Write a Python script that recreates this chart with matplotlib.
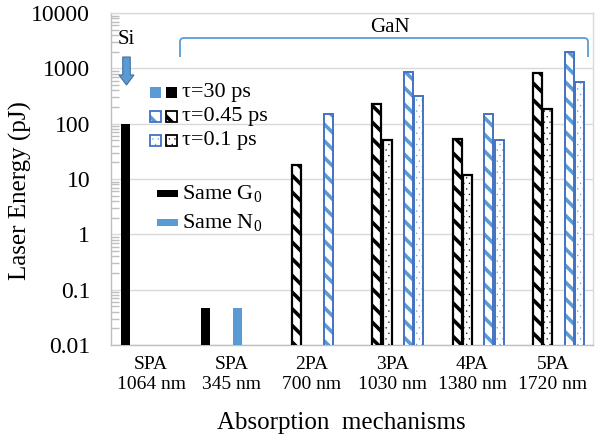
import numpy as np
import matplotlib
matplotlib.use("Agg")
import matplotlib.pyplot as plt
from matplotlib.patches import Rectangle, FancyArrow, PathPatch
from matplotlib.path import Path
from matplotlib.ticker import LogLocator, FixedLocator, FixedFormatter, NullFormatter

nan = np.nan
categories = ["SPA\n1064 nm", "SPA\n345 nm", "2PA\n700 nm", "3PA\n1030 nm", "4PA\n1380 nm", "5PA\n1720 nm"]
g0_30ps = [100, 0.047, nan, nan, nan, nan]
g0_045ps = [nan, nan, 18, 224, 53, 810]
g0_01ps = [nan, nan, nan, 50, 12, 182]
n0_30ps = [nan, 0.047, nan, nan, nan, nan]
n0_045ps = [nan, nan, 150, 850, 150, 1950]
n0_01ps = [nan, nan, nan, 312, 50, 566]
ytick_vals = [0.01, 0.1, 1, 10, 100, 1000, 10000]
ytick_labels = ["0.01", "0.1", "1", "10", "100", "1000", "10000"]

BLUE = "#5b9bd5"
BLUE_EDGE = "#4472c4"
GRID = "#d9d9d9"
STRIPE_LW = 2.6
DOT_LW = 0.2
DOTS = '...'

plt.rcParams['font.family'] = ['Liberation Serif', 'DejaVu Serif']
plt.rcParams['mathtext.fontset'] = 'custom'
plt.rcParams['mathtext.rm'] = 'Liberation Serif'
plt.rcParams['mathtext.it'] = 'Liberation Serif'

W, H = 596, 440
fig = plt.figure(figsize=(W / 100, H / 100), dpi=100)
L, R, T, B = 111, 593, 13, 345
ax = fig.add_axes([L / W, 1 - B / H, (R - L) / W, (B - T) / H])

x = np.arange(len(categories))
bw = 0.112
step = 0.131
offs = [(i - 2.5) * step + 0.005 for i in range(6)]


def set_hlw(bars, lw):
    for b in bars:
        if hasattr(b, "set_hatch_linewidth"):
            b.set_hatch_linewidth(lw)


ax.set_yscale('log')
# solid bars
ax.bar(x + offs[0], g0_30ps, bw, color='black', edgecolor='black', linewidth=0, zorder=3)
ax.bar(x + offs[3], n0_30ps, bw, color=BLUE, edgecolor=BLUE, linewidth=0, zorder=3)
# hatched bars
with plt.rc_context({'hatch.linewidth': STRIPE_LW}):
    b1 = ax.bar(x + offs[1], g0_045ps, bw, color='white', edgecolor='black', hatch='\\\\', linewidth=0, zorder=3)
    b2 = ax.bar(x + offs[4], n0_045ps, bw, color='white', edgecolor=BLUE, hatch='\\\\', linewidth=0, zorder=3)
set_hlw(b1, STRIPE_LW)
set_hlw(b2, STRIPE_LW)
with plt.rc_context({'hatch.linewidth': DOT_LW}):
    b3 = ax.bar(x + offs[2], g0_01ps, bw, color='white', edgecolor='black', hatch=DOTS, linewidth=0, zorder=3)
    b4 = ax.bar(x + offs[5], n0_01ps, bw, color='white', edgecolor=BLUE, hatch=DOTS, linewidth=0, zorder=3)
set_hlw(b3, DOT_LW)
set_hlw(b4, DOT_LW)
# outlines
ax.bar(x + offs[1], g0_045ps, bw, fill=False, edgecolor='black', linewidth=1.6, zorder=4)
ax.bar(x + offs[2], g0_01ps, bw, fill=False, edgecolor='black', linewidth=1.6, zorder=4)
ax.bar(x + offs[4], n0_045ps, bw, fill=False, edgecolor=BLUE_EDGE, linewidth=1.4, zorder=4)
ax.bar(x + offs[5], n0_01ps, bw, fill=False, edgecolor=BLUE_EDGE, linewidth=1.4, zorder=4)

ax.set_ylim(0.01, 10000)
ax.set_xlim(-0.5, len(categories) - 0.5)
ax.yaxis.set_major_locator(FixedLocator(ytick_vals))
ax.yaxis.set_major_formatter(FixedFormatter(ytick_labels))
ax.yaxis.set_minor_locator(LogLocator(base=10, subs=np.arange(2, 10)))
ax.yaxis.set_minor_formatter(NullFormatter())
ax.tick_params(axis='y', which='major', direction='in', length=0, pad=15, labelsize=17)
ax.tick_params(axis='y', which='minor', direction='in', length=6, width=1, color='#bfbfbf')
ax.set_xticks(x)
ax.set_xticklabels(categories, fontsize=14, linespacing=1.25)
ax.tick_params(axis='x', length=0, pad=8)
ax.grid(axis='y', which='major', color=GRID, linewidth=1, zorder=0)
ax.set_axisbelow(True)
for s in ax.spines.values():
    s.set_color(GRID)
    s.set_linewidth(1)
ax.spines['left'].set_color('#bfbfbf')
ax.spines['bottom'].set_color('#bfbfbf')

fig.text(20 / W, 1 - 191 / H, "Laser Energy (pJ)", rotation=90, ha='center', va='center', fontsize=18)
fig.text(341 / W, 1 - 423 / H, "Absorption  mechanisms", ha='center', va='center', fontsize=18)

tr = fig.dpi_scale_trans


def P(px, py):
    return (px / 100, (H - py) / 100)


# Si label and arrow
fig.text(126 / W, 1 - 40 / H, "Si", ha='center', va='center', fontsize=15)
ax0, ay0 = P(126.5, 57)
arr = FancyArrow(ax0, ay0, 0, -0.28, width=0.075, head_width=0.15, head_length=0.10,
                 length_includes_head=True, transform=tr, facecolor=BLUE, edgecolor='#41719c', linewidth=0.8)
fig.add_artist(arr)

# GaN bracket
r = 4
pts = [P(180, 57), P(180, 38 + r), P(180, 38), P(180 + r, 38), P(588 - r, 38), P(588, 38), P(588, 38 + r), P(588, 57)]
codes = [Path.MOVETO, Path.LINETO, Path.CURVE3, Path.CURVE3, Path.LINETO, Path.CURVE3, Path.CURVE3, Path.LINETO]
fig.add_artist(PathPatch(Path(pts, codes), transform=tr, fill=False, edgecolor=BLUE, linewidth=1.3))
fig.text(390 / W, 1 - 28 / H, "GaN", ha='center', va='center', fontsize=15)

# legend 1
rows = [(92, None, "τ=30 ps"), (116, '\\\\', "τ=0.45 ps"), (140, DOTS, "τ=0.1 ps")]
for yc, hatch, label in rows:
    for xl, col in [(150, BLUE), (166, 'black')]:
        x0, y0 = P(xl, yc + 5.5)
        if hatch is None:
            rect = Rectangle((x0, y0), 0.11, 0.11, transform=tr, facecolor=col, edgecolor=col, linewidth=0)
            fig.add_artist(rect)
        else:
            hl = STRIPE_LW if hatch == '\\\\' else DOT_LW
            with plt.rc_context({'hatch.linewidth': hl}):
                rect = Rectangle((x0, y0), 0.11, 0.11, transform=tr, facecolor='white', edgecolor=col,
                                 hatch=hatch, linewidth=0)
            if hasattr(rect, "set_hatch_linewidth"):
                rect.set_hatch_linewidth(hl)
            fig.add_artist(rect)
            oe = BLUE_EDGE if col == BLUE else 'black'
            fig.add_artist(Rectangle((x0, y0), 0.11, 0.11, transform=tr, fill=False, edgecolor=oe, linewidth=1.3))
    fig.text(182 / W, 1 - yc / H, label, ha='left', va='center', fontsize=16)

# legend 2
for yc, col, label in [(193, 'black', "Same G$_0$"), (222, BLUE, "Same N$_0$")]:
    x0, y0 = P(157, yc + 3.5)
    fig.add_artist(Rectangle((x0, y0), 0.21, 0.07, transform=tr, facecolor=col, linewidth=0))
    fig.text(182 / W, 1 - yc / H, label, ha='left', va='center', fontsize=16)

fig.savefig("out.png", dpi=100)
